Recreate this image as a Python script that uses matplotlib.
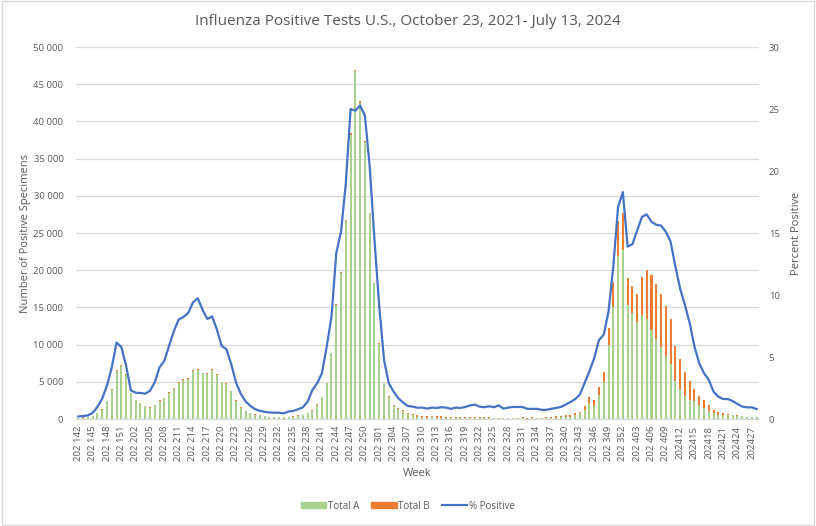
import matplotlib
matplotlib.use("Agg")
import matplotlib.pyplot as plt
from matplotlib.patches import Patch, Rectangle
from matplotlib.lines import Line2D
import numpy as np

plt.rcParams['font.family'] = ['Open Sans', 'DejaVu Sans']

# ---- categories: epidemiological weeks 2021-42 .. 2024-28 ----
years = [2021, 2022, 2023, 2024]
first_week = [42, 1, 1, 1]
last_week = [52, 52, 52, 28]
weeks = [f"{y}{w:02d}" for y, a, b in zip(years, first_week, last_week) for w in range(a, b + 1)]

# ---- series values ----
total_a = [
    150, 200, 300, 400, 750, 1200, 2400, 3850, 6500, 7170,
    5970, 3500, 2520, 2120, 1730, 1500, 1860, 2430, 2790, 3500,
    4070, 4820, 5310, 5440, 6500, 6640, 6200, 6100, 6640, 5970,
    4910, 4650, 3720, 2430, 1500, 1060, 800, 575, 490, 350,
    265, 220, 270, 270, 270, 310, 450, 540, 800, 1080,
    1880, 2910, 4800, 8830, 15330, 19640, 26680, 38200, 46810, 42460,
    37220, 27660, 18250, 10090, 4800, 2910, 1790, 1340, 1080, 670,
    490, 310, 200, 200, 250, 100, 200, 100, 80, 80,
    80, 80, 80, 80, 80, 80, 80, 100, 100, 150,
    120, 100, 80, 80, 60, 80, 80, 80, 100, 100,
    150, 300, 270, 300, 540, 760, 1210, 2200, 1790, 3230,
    5020, 9950, 15020, 21930, 22730, 15340, 14300, 13090, 13990, 13450,
    12000, 10800, 9730, 8520, 7440, 5110, 4040, 3140, 2560, 2420,
    1930, 1520, 1120, 810, 540, 580, 540, 490, 450, 400,
    270, 270, 270,
]
total_b = [
    20, 20, 30, 40, 90, 130, 50, 130, 130, 60,
    130, 60, 40, 40, 40, 90, 40, 90, 40, 130,
    40, 90, 130, 130, 130, 130, 50, 130, 50, 50,
    130, 130, 50, 90, 90, 50, 50, 90, 90, 90,
    50, 90, 60, 60, 60, 130, 90, 60, 60, 90,
    130, 60, 90, 90, 130, 60, 90, 220, 130, 220,
    130, 60, 60, 130, 90, 180, 130, 130, 130, 130,
    180, 220, 180, 180, 180, 250, 200, 150, 150, 150,
    180, 150, 150, 180, 150, 200, 180, 20, 50, 20,
    20, 50, 100, 200, 50, 150, 120, 50, 150, 150,
    200, 130, 270, 300, 220, 220, 540, 800, 760, 1120,
    1350, 2330, 3450, 4750, 5020, 3590, 3590, 3700, 5160, 6600,
    7350, 7360, 7090, 6680, 6050, 4750, 4030, 3180, 2550, 1610,
    1160, 1030, 760, 400, 450, 220, 130, 50, 90, 50,
    30, 30, 50,
]
pct_positive = [
    0.20, 0.24, 0.29, 0.50, 0.98, 1.65, 2.71, 4.17, 6.16, 5.81,
    4.30, 2.31, 2.12, 2.10, 2.04, 2.28, 2.97, 4.17, 4.70, 5.89,
    7.09, 8.02, 8.23, 8.55, 9.40, 9.74, 8.81, 8.07, 8.28, 7.22,
    5.89, 5.63, 4.43, 2.97, 2.04, 1.43, 1.06, 0.80, 0.66, 0.58,
    0.53, 0.51, 0.51, 0.46, 0.60, 0.65, 0.78, 0.94, 1.40, 2.34,
    2.88, 3.69, 5.84, 8.26, 13.37, 15.10, 19.00, 25.00, 24.86, 25.29,
    24.45, 20.36, 14.45, 9.07, 4.76, 2.88, 2.21, 1.67, 1.32, 1.05,
    1.00, 0.91, 0.92, 0.84, 0.92, 0.89, 0.95, 0.92, 0.82, 0.92,
    0.89, 0.97, 1.10, 1.16, 1.00, 0.95, 1.03, 0.95, 1.10, 0.84,
    0.92, 0.97, 0.97, 0.97, 0.82, 0.82, 0.82, 0.74, 0.74, 0.82,
    0.89, 0.97, 1.16, 1.37, 1.60, 1.97, 2.90, 3.85, 4.90, 6.37,
    6.80, 8.66, 12.30, 17.10, 18.30, 13.90, 14.10, 15.20, 16.30, 16.50,
    15.90, 15.66, 15.60, 15.10, 14.30, 12.30, 10.50, 9.20, 7.72, 5.84,
    4.49, 3.69, 3.15, 2.20, 1.80, 1.61, 1.61, 1.45, 1.21, 1.00,
    0.94, 0.94, 0.81,
]

left_ticks = [0, 5000, 10000, 15000, 20000, 25000, 30000, 35000, 40000, 45000, 50000]
right_ticks = [0, 5, 10, 15, 20, 25, 30]

GREEN = '#A9D18E'
ORANGE = '#ED7D31'
BLUE = '#4472C4'
TXT = '#595959'
GRID = '#D9D9D9'

def fmt(v):
    return f"{int(v):,}".replace(",", " ")

def week_label(w):
    # later 2024 weeks appear as plain text (no thousands separator)
    return w if int(w) >= 202410 else fmt(w)

fig = plt.figure(figsize=(8.16, 5.26), dpi=100)
ax = fig.add_axes([0.0931, 0.2034, 0.8370, 0.7072])
ax2 = ax.twinx()

x = np.arange(len(weeks))
a = np.array(total_a)
b = np.array(total_b)
ax.bar(x, a, width=0.42, color=GREEN, zorder=2, linewidth=0)
ax.bar(x, b, width=0.42, bottom=a, color=ORANGE, zorder=2, linewidth=0)
ax2.plot(x, pct_positive, color=BLUE, linewidth=1.6, zorder=3)

ax.set_xlim(-0.5, len(weeks) - 0.5)
ax.set_ylim(0, 50000)
ax2.set_ylim(0, 30)
ax.set_yticks(left_ticks)
ax.set_yticklabels([fmt(v) for v in left_ticks])
ax2.set_yticks(right_ticks)
ax2.set_yticklabels([str(v) for v in right_ticks])

tick_idx = list(range(0, len(weeks), 3))
ax.set_xticks(tick_idx)
ax.set_xticklabels([week_label(weeks[i]) for i in tick_idx], rotation=90)

ax.grid(axis='y', color=GRID, linewidth=0.9, zorder=0)
ax.set_axisbelow(True)
for s in ['top', 'right', 'left']:
    ax.spines[s].set_visible(False)
    ax2.spines[s].set_visible(False)
ax.spines['bottom'].set_color(GRID)
ax2.spines['bottom'].set_visible(False)

ax.tick_params(axis='both', length=0, colors=TXT, labelsize=6.8)
ax.tick_params(axis='y', pad=9)
ax.tick_params(axis='x', pad=5)
ax2.tick_params(axis='y', length=0, colors=TXT, labelsize=6.8, pad=7)

ax.set_ylabel('Number of Positive Specimens', color=TXT, fontsize=8, labelpad=2)
ax2.set_ylabel('Percent Positive', color=TXT, fontsize=8, labelpad=8)
ax.set_xlabel('Week', color=TXT, fontsize=8, labelpad=5)

fig.suptitle('Influenza Positive Tests U.S., October 23, 2021- July 13, 2024',
             color=TXT, fontsize=11, y=0.974)

handles = [Patch(color=GREEN, label='Total A'),
           Patch(color=ORANGE, label='Total B'),
           Line2D([0], [0], color=BLUE, linewidth=1.6, label='% Positive')]
fig.legend(handles=handles, loc='center', bbox_to_anchor=(0.5, 0.038), ncol=3,
           frameon=False, fontsize=7, labelcolor=TXT, handlelength=2.6,
           handleheight=0.6, columnspacing=1.2, handletextpad=0.2)

fig.patches.append(Rectangle((0.002, 0.002), 0.996, 0.996, transform=fig.transFigure,
                             fill=False, edgecolor=GRID, linewidth=1.0))

fig.savefig('out.png', dpi=100)
